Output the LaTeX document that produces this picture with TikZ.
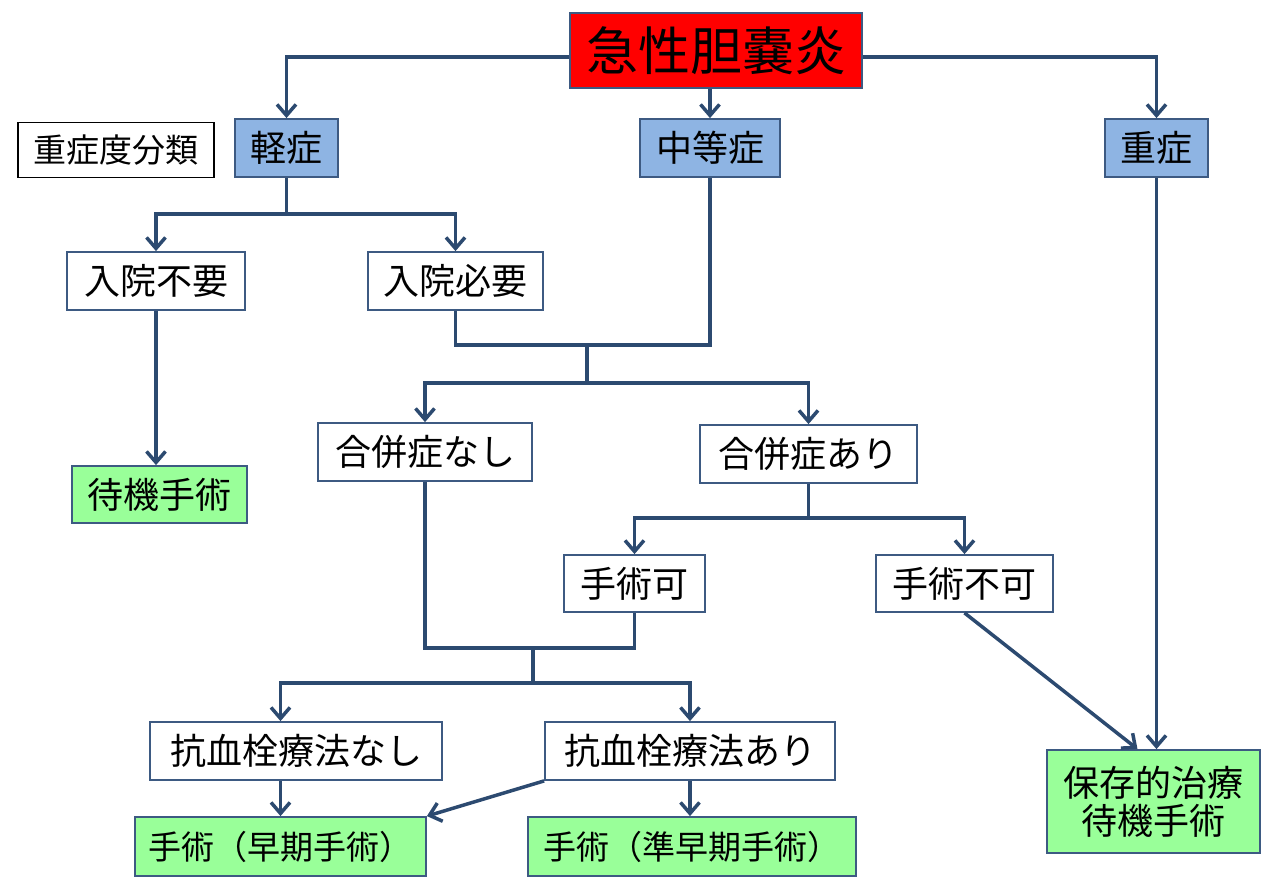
\documentclass[tikz,border=0pt]{standalone}
\usepackage{fontspec}
\newfontfamily\jpfont{Noto Sans CJK JP}
\usetikzlibrary{arrows.meta}
\definecolor{linecol}{HTML}{2C4A70}
\definecolor{edgecol}{HTML}{3D5A82}
\definecolor{mildblue}{HTML}{8EB4E3}
\definecolor{okgreen}{HTML}{99FF99}
\newcommand*\jp[1]{\jpfont\fontsize{#1}{#1}\selectfont}

\begin{document}
\begin{tikzpicture}[x=1pt,y=-1pt,
  box/.style={draw=edgecol,line width=1.8pt,fill=white,inner sep=0pt,minimum height=58pt,font=\jp{36}},
  grade/.style={box,fill=mildblue},
  result/.style={box,fill=okgreen},
  flow/.style={draw=linecol,line width=3.5pt,-{Straight Barb[length=11pt,width=19pt]}},
  link/.style={draw=linecol,line width=3.5pt}]
\useasboundingbox (0,0) rectangle (1280,891);
% title
\node [box,fill=red,minimum width=292pt,minimum height=75pt,font=\jp{52}] (title) at (716,50.5) {急性胆嚢炎};
\node [box,draw=black,minimum width=196pt,minimum height=55pt,font=\jp{33}] (label) at (116,150) {重症度分類};
% grades
\node [grade,minimum width=103pt] (mild) at (286.5,148) {軽症};
\node [grade,minimum width=140pt] (moderate) at (710,148) {中等症};
\node [grade,minimum width=103pt] (severe) at (1156.5,148) {重症};
% admission
\node [box,minimum width=178pt] (noadmit) at (156,281) {入院不要};
\node [box,minimum width=175pt] (admit) at (455.5,281) {入院必要};
\node [result,minimum width=175pt,minimum height=57pt] (delayed) at (159.5,494.5) {待機手術};
% complications
\node [box,minimum width=214pt] (nocomp) at (425,452) {合併症なし};
\node [box,minimum width=217pt] (comp) at (808.5,454) {合併症あり};
\node [box,minimum width=141pt,minimum height=57pt] (canop) at (634.5,583.5) {手術可};
\node [box,minimum width=177pt,minimum height=57pt] (cannotop) at (964.5,583.5) {手術不可};
% antithrombotic
\node [box,minimum width=292pt] (noanti) at (296,751) {抗血栓療法なし};
\node [box,minimum width=290pt] (anti) at (690,751) {抗血栓療法あり};
\node [result,minimum width=291pt,minimum height=59pt,font=\jp{33}] (early) at (280.5,846.5) {手術（早期手術）};
\node [result,minimum width=328pt,minimum height=59pt,font=\jp{33}] (semi) at (692,846.5) {手術（準早期手術）};
\node [result,minimum width=213pt,minimum height=103pt,align=center] (conserv) at (1153.5,801.5) {保存的治療\\[2pt]待機手術};
%
\coordinate (join1) at (587,345);
\coordinate (fork2) at (587,383);
\coordinate (join2) at (533,648);
\coordinate (fork4) at (533,683);
% from title
\draw [flow] ([yshift=-6.5pt]title.west) -| (mild);
\draw [flow] ([yshift=-6.5pt]title.east) -| (severe);
\draw [flow] (title.south -| moderate) -- (moderate);
% mild
\draw [link] (mild.south) -- ++(0,36) coordinate (fork1);
\draw [flow] (fork1) -| (noadmit);
\draw [flow] (fork1) -| (admit);
\draw [flow] (noadmit.south) -- (noadmit.south |- delayed.north);
% moderate
\draw [link] (admit.south) |- (join1) -| (moderate.south);
\draw [link] (join1) -- (fork2);
\draw [flow] (fork2) -| (nocomp);
\draw [flow] (fork2) -| (comp);
\draw [link] (comp.south) -- ++(0,34) coordinate (fork3);
\draw [flow] (fork3) -| (canop);
\draw [flow] (fork3) -| (cannotop);
% surgery possible
\draw [link] (nocomp.south) |- (join2) -| (canop.south);
\draw [link] (join2) -- (fork4);
\draw [flow] (fork4) -| (noanti.north -| early);
\draw [flow] (fork4) -| (anti);
\draw [flow] (noanti.south -| early) -- (early);
\draw [flow] (anti.south) -- (anti.south |- semi.north);
\draw [flow] (anti.south west) -- (early.north east);
% severe
\draw [flow] (cannotop.south) -- ([xshift=-16pt]conserv.north);
\draw [flow] (severe) -- (severe |- conserv.north);
\end{tikzpicture}
\end{document}
